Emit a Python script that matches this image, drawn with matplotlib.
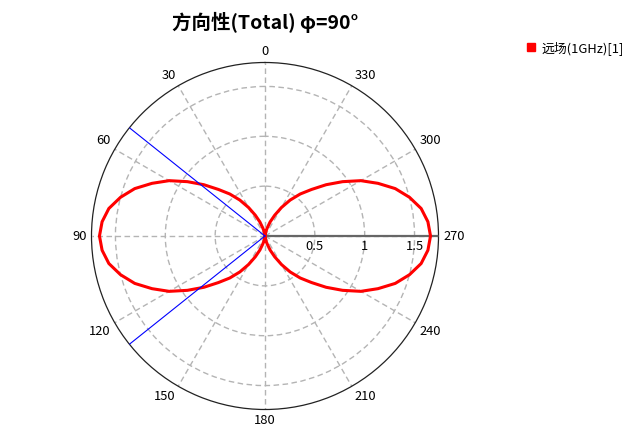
import numpy as np
import matplotlib.pyplot as plt
from matplotlib.lines import Line2D
from matplotlib import transforms

plt.rcParams['font.family'] = ['Noto Sans CJK SC', 'DejaVu Sans']

# far-field directivity, phi=90 cut, every 5 degrees
angles_deg = list(range(0, 361, 5))
directivity = [
    0.00, 0.01, 0.04, 0.08, 0.15, 0.23, 0.33, 0.44, 0.55, 0.66,
    0.80, 0.95, 1.11, 1.25, 1.39, 1.50, 1.59, 1.64, 1.66,
    1.64, 1.59, 1.50, 1.39, 1.25, 1.11, 0.95, 0.80, 0.66, 0.55,
    0.44, 0.33, 0.23, 0.15, 0.08, 0.04, 0.01, 0.00,
    0.01, 0.04, 0.08, 0.15, 0.23, 0.33, 0.44, 0.55, 0.66,
    0.80, 0.95, 1.11, 1.25, 1.39, 1.50, 1.59, 1.64, 1.66,
    1.64, 1.59, 1.50, 1.39, 1.25, 1.11, 0.95, 0.80, 0.66, 0.55,
    0.44, 0.33, 0.23, 0.15, 0.08, 0.04, 0.01, 0.00,
]
hpbw_deg = [51.4, 128.6]   # half power marker lines
theta_ticks = [0, 30, 60, 90, 120, 150, 180, 210, 240, 270, 300, 330]
r_ticks = [0.5, 1, 1.5]
r_tick_labels = ['0.5', '1', '1.5']
r_max = 1.74
title = '方向性(Total) φ=90°'
series_name = '远场(1GHz)[1]'

fig = plt.figure(figsize=(6.32, 4.46), dpi=100)
ax = fig.add_axes([91.5 / 632, 36.5 / 446, 347 / 632, 347 / 446], projection='polar')
ax.set_theta_zero_location('N')
ax.set_theta_direction(1)
ax.set_ylim(0, r_max)

ax.set_thetagrids(theta_ticks)
ax.set_rgrids(r_ticks)
ax.set_xticklabels([])
ax.set_yticklabels([])
ax.grid(True, color='#b4b4b4', linestyle=(0, (4, 2.5)), linewidth=1)
ax.spines['polar'].set_color('#222222')
ax.spines['polar'].set_linewidth(0.9)

# radial axis line
ax.plot([np.deg2rad(270)] * 2, [0, r_max], color='#666666', lw=1.6, zorder=3)

ax.plot(np.deg2rad(angles_deg), directivity, color='red', lw=2.2, zorder=4, label=series_name)
for a in hpbw_deg:
    ax.plot([np.deg2rad(a)] * 2, [0, r_max], color='blue', lw=0.8, zorder=5)

# angle labels outside the circle
pad = 3.5
for t in theta_ticks:
    s, c = np.sin(np.deg2rad(t)), np.cos(np.deg2rad(t))
    if abs(s) < 0.01:
        ha = 'center'
    elif s > 0:
        ha = 'right'
    else:
        ha = 'left'
    if abs(c) < 0.01:
        va = 'center'
    elif c > 0:
        va = 'bottom'
    else:
        va = 'top'
    tr = transforms.offset_copy(ax.transData, fig=fig, x=-s * pad, y=c * pad, units='points')
    ax.text(np.deg2rad(t), r_max, str(t), ha=ha, va=va, fontsize=9.3, transform=tr, clip_on=False)

tr = transforms.offset_copy(ax.transData, fig=fig, x=0, y=-3, units='points')
for r, lab in zip(r_ticks, r_tick_labels):
    ax.text(np.deg2rad(270), r, lab, ha='center', va='top', fontsize=9.3, transform=tr, zorder=6)

fig.text(265 / 632, 1 - 22 / 446, title, ha='center', va='center', fontsize=14, fontweight='bold')

handle = Line2D([], [], marker='s', color='red', linestyle='none', markersize=5.5)
fig.legend(handles=[handle], labels=[series_name], loc='center left',
           bbox_to_anchor=(526 / 632, 1 - 48 / 446), frameon=False, fontsize=9.3,
           handlelength=0.8, handletextpad=0.4, borderaxespad=0, borderpad=0)

fig.savefig('out.png', dpi=100)
